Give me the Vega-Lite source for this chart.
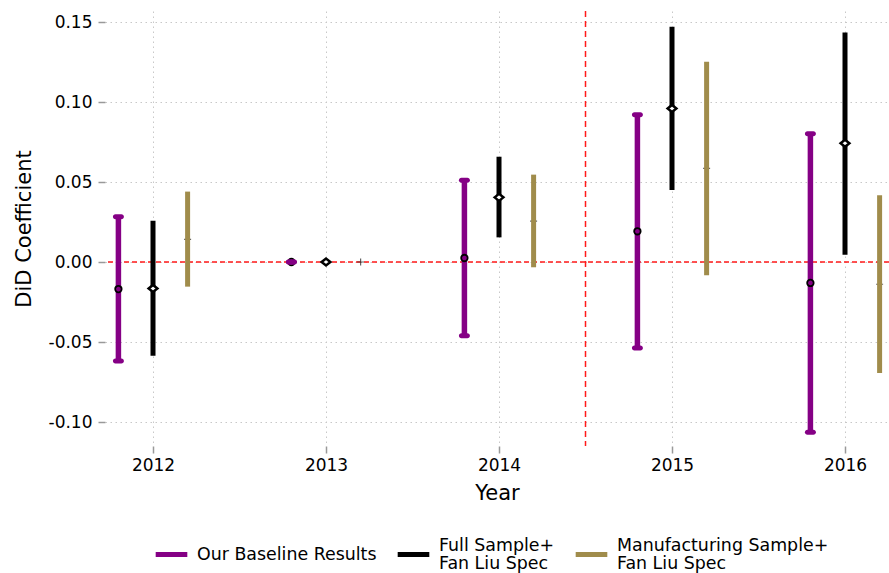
{
  "$schema": "https://vega.github.io/schema/vega-lite/v6.json",
  "autosize": "none",
  "width": 784,
  "height": 435,
  "padding": {"left": 105, "top": 11, "right": 0, "bottom": 127},
  "background": "white",
  "config": {
    "font": "DejaVu Sans",
    "view": {"stroke": null},
    "axis": {"labelFont": "DejaVu Sans", "titleFont": "DejaVu Sans", "labelColor": "black", "titleColor": "black", "titleFontWeight": "normal"}
  },
  "data": {
    "values": [
      {"year": 2012, "series": "Our Baseline Results", "est": -0.0169, "lo": -0.0619, "hi": 0.0283},
      {"year": 2013, "series": "Our Baseline Results", "est": 0.0, "lo": 0.0, "hi": 0.0},
      {"year": 2014, "series": "Our Baseline Results", "est": 0.0025, "lo": -0.0461, "hi": 0.0511},
      {"year": 2015, "series": "Our Baseline Results", "est": 0.0192, "lo": -0.0538, "hi": 0.0921},
      {"year": 2016, "series": "Our Baseline Results", "est": -0.0131, "lo": -0.1064, "hi": 0.0802},
      {"year": 2012, "series": "Full Sample+ Fan Liu Spec", "est": -0.0165, "lo": -0.0586, "hi": 0.0258},
      {"year": 2013, "series": "Full Sample+ Fan Liu Spec", "est": 0.0, "lo": 0.0, "hi": 0.0},
      {"year": 2014, "series": "Full Sample+ Fan Liu Spec", "est": 0.0404, "lo": 0.0154, "hi": 0.0658},
      {"year": 2015, "series": "Full Sample+ Fan Liu Spec", "est": 0.096, "lo": 0.045, "hi": 0.1471},
      {"year": 2016, "series": "Full Sample+ Fan Liu Spec", "est": 0.0742, "lo": 0.0046, "hi": 0.1435},
      {"year": 2012, "series": "Manufacturing Sample+ Fan Liu Spec", "est": 0.0142, "lo": -0.0154, "hi": 0.044},
      {"year": 2013, "series": "Manufacturing Sample+ Fan Liu Spec", "est": 0.0, "lo": 0.0, "hi": 0.0},
      {"year": 2014, "series": "Manufacturing Sample+ Fan Liu Spec", "est": 0.0256, "lo": -0.0033, "hi": 0.0546},
      {"year": 2015, "series": "Manufacturing Sample+ Fan Liu Spec", "est": 0.0585, "lo": -0.0083, "hi": 0.1252},
      {"year": 2016, "series": "Manufacturing Sample+ Fan Liu Spec", "est": -0.0139, "lo": -0.0694, "hi": 0.0417}
    ]
  },
  "encoding": {
    "x": {
      "field": "year", "type": "quantitative",
      "scale": {"domain": [2011.7225, 2016.2543], "nice": false, "zero": false},
      "axis": {
        "values": [2012, 2013, 2014, 2015, 2016], "format": "d", "title": "Year",
        "domain": false, "tickColor": "#999999", "tickSize": 7, "tickWidth": 1.5,
        "labelFontSize": 17, "labelPadding": 4, "titleFontSize": 21, "titlePadding": 9,
        "grid": true, "gridColor": "#c8c8c8", "gridDash": [1.5, 3.5], "gridWidth": 1
      }
    },
    "y": {
      "field": "est", "type": "quantitative",
      "scale": {"domain": [-0.115, 0.156875], "nice": false, "zero": false},
      "axis": {
        "values": [-0.1, -0.05, 0, 0.05, 0.1, 0.15],
        "labelExpr": "replace(format(datum.value, '.2f'), '\u2212', '-')",
        "title": "DiD Coefficient",
        "domain": false, "tickColor": "#999999", "tickSize": 7, "tickWidth": 1.5,
        "labelFontSize": 17, "labelPadding": 6, "titleFontSize": 21, "titlePadding": 14,
        "grid": true, "gridColor": "#c8c8c8", "gridDash": [1.5, 3.5], "gridWidth": 1
      }
    }
  },
  "layer": [
    {
      "data": {"values": [{"ref": 0}]},
      "mark": {"type": "rule", "color": "#ff1a1a", "strokeWidth": 1.5, "strokeDash": [5, 3]},
      "encoding": {"y": {"field": "ref", "type": "quantitative"}, "x": null}
    },
    {
      "data": {"values": [{"ref": 2014.5}]},
      "mark": {"type": "rule", "color": "#ff1a1a", "strokeWidth": 1.5, "strokeDash": [6, 4]},
      "encoding": {"x": {"field": "ref", "type": "quantitative"}, "y": null}
    },
    {
      "data": {"values": [{"lo": -0.1, "hi": 0.15}]},
      "mark": {"type": "rule", "color": "#999999", "strokeWidth": 1.5},
      "encoding": {"x": {"datum": 2011.7225}, "y": {"field": "lo", "type": "quantitative"}, "y2": {"field": "hi"}}
    },
    {
      "data": {"values": [{"lo": 2012, "hi": 2016}]},
      "mark": {"type": "rule", "color": "#999999", "strokeWidth": 1.5},
      "encoding": {"y": {"datum": -0.115}, "x": {"field": "lo", "type": "quantitative"}, "x2": {"field": "hi"}}
    },
    {
      "transform": [{"filter": "datum.series == 'Manufacturing Sample+ Fan Liu Spec'"}],
      "mark": {"type": "point", "shape": "M-1,0L1,0M0,-1L0,1", "size": 49, "filled": false, "color": "#222222", "strokeWidth": 1.2, "xOffset": 34.6}
    },
    {
      "transform": [{"filter": "datum.series == 'Our Baseline Results'"}],
      "mark": {"type": "rule", "strokeWidth": 5.5, "xOffset": -34.6},
      "encoding": {
        "y": {"field": "lo", "type": "quantitative"}, "y2": {"field": "hi"},
        "color": {"field": "series", "type": "nominal",
          "scale": {"domain": ["Our Baseline Results", "Full Sample+ Fan Liu Spec", "Manufacturing Sample+ Fan Liu Spec"], "range": ["#850085", "#000000", "#a08c4b"]},
          "legend": {
            "title": null, "orient": "none", "direction": "horizontal", "columns": 3,
            "legendX": 48, "legendY": 525,
            "symbolType": "stroke", "symbolSize": 1000, "symbolStrokeWidth": 5,
            "labelFontSize": 17.4, "labelFont": "DejaVu Sans", "labelColor": "black", "labelOffset": 7,
            "columnPadding": 10, "labelLimit": 400,
            "labelExpr": "datum.label == 'Our Baseline Results' ? ['\u200b', datum.label, '\u200b'] : [split(datum.label, '+ ')[0] + '+', '\u200b', split(datum.label, '+ ')[1]]",
            "encode": {"labels": {"update": {"dy": {"value": -9}, "lineHeight": {"value": 9}}}}
          }
        }
      }
    },
    {
      "transform": [{"filter": "datum.series == 'Full Sample+ Fan Liu Spec'"}],
      "mark": {"type": "rule", "strokeWidth": 5},
      "encoding": {"y": {"field": "lo", "type": "quantitative"}, "y2": {"field": "hi"}, "color": {"field": "series", "type": "nominal"}}
    },
    {
      "transform": [{"filter": "datum.series == 'Manufacturing Sample+ Fan Liu Spec'"}],
      "mark": {"type": "rule", "strokeWidth": 5, "xOffset": 34.6},
      "encoding": {"y": {"field": "lo", "type": "quantitative"}, "y2": {"field": "hi"}, "color": {"field": "series", "type": "nominal"}}
    },
    {
      "transform": [{"filter": "datum.series == 'Our Baseline Results'"}],
      "mark": {"type": "point", "shape": "circle", "size": 42, "filled": false, "color": "black", "strokeWidth": 1.8, "xOffset": -34.6, "opacity": 1}
    },
    {
      "transform": [{"filter": "datum.series == 'Our Baseline Results'"}],
      "mark": {"type": "tick", "orient": "horizontal", "size": 11, "thickness": 5, "cornerRadius": 2.5, "color": "#850085", "xOffset": -34.6, "opacity": 1},
      "encoding": {"y": {"field": "lo", "type": "quantitative"}}
    },
    {
      "transform": [{"filter": "datum.series == 'Our Baseline Results'"}],
      "mark": {"type": "tick", "orient": "horizontal", "size": 11, "thickness": 5, "cornerRadius": 2.5, "color": "#850085", "xOffset": -34.6, "opacity": 1},
      "encoding": {"y": {"field": "hi", "type": "quantitative"}}
    },
    {
      "transform": [{"filter": "datum.series == 'Full Sample+ Fan Liu Spec'"}],
      "mark": {"type": "point", "shape": "M-1.25,0L0,-1L1.25,0L0,1Z", "size": 49, "filled": false, "fill": "white", "fillOpacity": 1, "color": "black", "strokeWidth": 2.5, "opacity": 1}
    }
  ]
}
